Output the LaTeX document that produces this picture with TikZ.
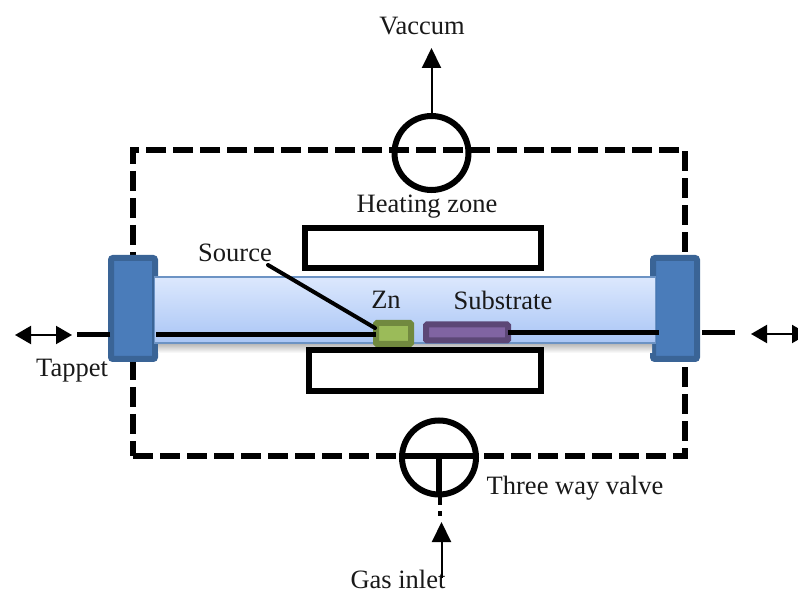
\documentclass[tikz,border=0pt]{standalone}
\usepackage{fontspec}
\setmainfont{Liberation Serif}
\usetikzlibrary{arrows.meta}
\definecolor{tubetop}{HTML}{DCE8FD}
\definecolor{tubebot}{HTML}{A9C5F5}
\definecolor{tubeedge}{HTML}{6C93C4}
\definecolor{flfill}{HTML}{4A7CBA}
\definecolor{fledge}{HTML}{3A6496}
\definecolor{znfill}{HTML}{9BBB59}
\definecolor{znedge}{HTML}{71893F}
\definecolor{subfill}{HTML}{8064A2}
\definecolor{subedge}{HTML}{5C4776}
\tikzset{
  box/.style={draw,inner sep=0pt,outer sep=0pt},
  heater/.style={box,line width=6pt,fill=white,sharp corners},
  flange/.style={box,line width=6pt,draw=fledge,fill=flfill,rounded corners=2pt,minimum width=44pt,minimum height=101pt},
  valve/.style={box,circle,line width=6pt,minimum size=74pt},
  label/.style={inner sep=0pt,font=\fontsize{26.5}{30}\selectfont,text=black!90},
  thick line/.style={line width=5pt},
  thin arrow/.style={line width=2pt,-{Triangle[length=20pt,width=19pt]}},
  double arrow/.style={line width=2pt,{Triangle[length=16pt,width=18pt]}-{Triangle[length=16pt,width=18pt]}}
}
\begin{document}
\begin{tikzpicture}[x=1pt,y=-1pt]
\useasboundingbox (0,0) rectangle (798,593);
\clip (0,0) rectangle (798,593);
% frame
\node[box,line width=6pt,dash pattern=on 20pt off 7pt,minimum width=552pt,minimum height=306pt] (frame) at (409,150+153) {};
% flanges
\node[flange] (flL) at (133,308.5) {};
\node[flange] (flR) at (675,308.5) {};
% shadow and tube
\shade[top color=black!30,bottom color=white] (158,343) rectangle (652,353);
\node[box,line width=1.5pt,draw=tubeedge,top color=tubetop,bottom color=tubebot,minimum width=501pt,minimum height=66pt] (tube) at (405,310) {};
% heaters
\node[heater,minimum width=236pt,minimum height=40pt] (heatT) at (423,248) {};
\node[heater,minimum width=232pt,minimum height=41pt] (heatB) at (425,370.5) {};
% sample holders
\node[box,line width=6pt,draw=znedge,fill=znfill,rounded corners=1pt,minimum width=35pt,minimum height=21pt] (zn) at (393.5,333.5) {};
\node[box,line width=6pt,draw=subedge,fill=subfill,rounded corners=1pt,minimum width=82pt,minimum height=16pt] (sub) at (467,332.5) {};
% rods
\coordinate (rodL) at (156,335);
\coordinate (rodR) at (659,333);
\draw[thick line] (rodL) -- (zn.west |- rodL);
\draw[thick line] (sub.east |- rodR) -- (rodR);
% outer tappets
\coordinate (dashLa) at (110,335);
\coordinate (dashLb) at (77,335);
\coordinate (arrLa) at (15,335);
\coordinate (arrLb) at (72,335);
\coordinate (dashRa) at (702,333);
\coordinate (dashRb) at (735,333);
\coordinate (arrRa) at (751,334);
\coordinate (arrRb) at (808,334);
\draw[thick line] (dashLa) -- (dashLb);
\draw[thick line] (dashRa) -- (dashRb);
\draw[double arrow] (arrLa) -- (arrLb);
\draw[double arrow] (arrRa) -- (arrRb);
% valves
\node[valve] (vT) at (431.5,153) {};
\node[valve] (vB) at (439,457.5) {};
\draw[line width=6pt] (vB.west |- 0,456) -- (vB.east |- 0,456);
\draw[line width=6pt] (vB.center |- 0,456) -- (vB.south);
\coordinate (stubA) at (440,495);
\coordinate (stubB) at (440,505);
\coordinate (stubC) at (440,511);
\coordinate (stubD) at (440,516);
\draw[line width=3.5pt] (stubA) -- (stubB);
\draw[line width=3.5pt] (stubC) -- (stubD);
% labels
\node[label,anchor=center] (vac) at (422,26) {Vaccum};
\node[label,anchor=center] (heat) at (427,207) {Heating zone};
\node[label,anchor=center] (src) at (235,253) {Source};
\node[label,anchor=center] (znl) at (386,300) {Zn};
\node[label,anchor=center] (subl) at (503,300) {Substrate};
\node[label,anchor=center] (tap) at (72,371) {Tappet};
\node[label,anchor=center] (tw) at (575,488) {Three way valve};
\node[label,anchor=center] (gas) at (398,579) {Gas inlet};
% arrows
\coordinate (vacTip) at (431.5,48);
\coordinate (gasTip) at (441.5,522);
\coordinate (gasTail) at (441.5,578);
\draw[thin arrow] (vT.north) -- (vacTip);
\draw[thin arrow] (gasTail) -- (gasTip);
% source leader
\coordinate (srcEnd) at (268,265);
\coordinate (srcTo) at (375,328);
\draw[line width=4pt,line cap=round] (srcEnd) -- (srcTo);
\end{tikzpicture}
\end{document}
